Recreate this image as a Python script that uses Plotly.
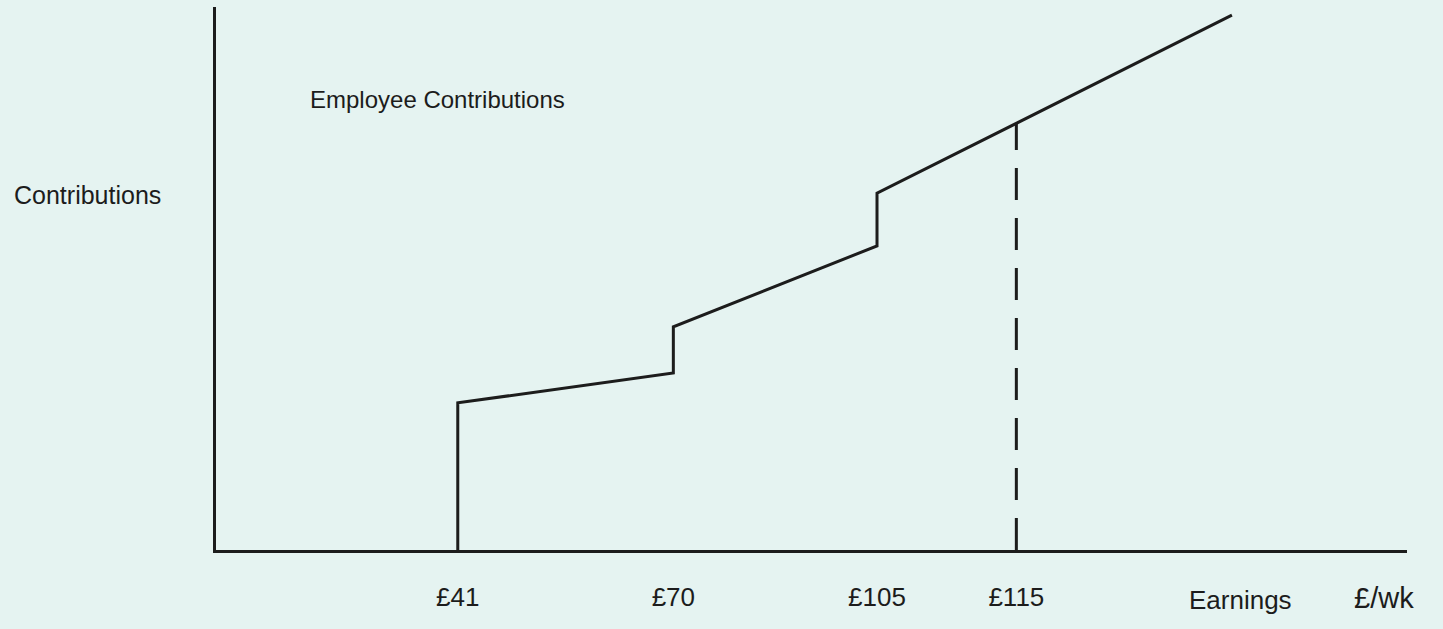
import numpy as np
import plotly.graph_objects as go

# Sketch (not to scale): positions along the axes in schematic units (0-100)
tick_labels = ["£41", "£70", "£105", "£115"]
tick_pos = [20.3, 38.4, 55.5, 67.2]

# Employee contributions step-line (schematic)
contrib_x = [20.3, 20.3, 38.4, 38.4, 55.5, 55.5, 85.3]
contrib_y = [0.0, 27.1, 32.6, 41.1, 56.0, 65.7, 98.5]

# Dashed marker at £115 (upper earnings limit)
uel_x = tick_pos[3]
uel_top = float(np.interp(uel_x, contrib_x[5:], contrib_y[5:]))

title_text = "Employee Contributions"
y_label = "Contributions"
x_label = "Earnings"
x_unit = "£/wk"

ink = "#1c1c1c"
paper = "#e5f3f1"
font_family = "Liberation Sans, Arial, sans-serif"

fig = go.Figure()
fig.add_trace(go.Scatter(x=contrib_x, y=contrib_y, mode="lines",
                         line=dict(color=ink, width=3), hoverinfo="skip",
                         showlegend=False, cliponaxis=False))
fig.add_trace(go.Scatter(x=[uel_x, uel_x], y=[0, uel_top], mode="lines",
                         line=dict(color=ink, width=3, dash="32px,18px"),
                         hoverinfo="skip", showlegend=False))

fig.update_layout(
    width=1443, height=629,
    margin=dict(l=216, r=36, t=7, b=79),
    paper_bgcolor=paper, plot_bgcolor=paper,
    font=dict(family=font_family, color=ink),
    xaxis=dict(range=[0, 100], showgrid=False, zeroline=False,
               showline=True, linecolor=ink, linewidth=3,
               tickvals=tick_pos, ticktext=tick_labels, ticks="",
               tickfont=dict(size=26, color=ink), ticklabelstandoff=22,
               fixedrange=True),
    yaxis=dict(range=[0, 100], showgrid=False, zeroline=False,
               showline=True, linecolor=ink, linewidth=3,
               showticklabels=False, ticks="", fixedrange=True),
    annotations=[
        dict(text=title_text, xref="paper", yref="paper", x=0.077, y=0.829,
             xanchor="left", yanchor="middle", showarrow=False,
             font=dict(size=24, color=ink)),
        dict(text=y_label, xref="paper", yref="paper", x=-0.171, y=0.654,
             xanchor="left", yanchor="middle", showarrow=False,
             font=dict(size=25, color=ink)),
        dict(text=x_label, xref="paper", yref="paper", x=0.86, y=-0.092,
             xanchor="center", yanchor="middle", showarrow=False,
             font=dict(size=26, color=ink)),
        dict(text=x_unit, xref="paper", yref="paper", x=0.981, y=-0.088,
             xanchor="center", yanchor="middle", showarrow=False,
             font=dict(size=29, color=ink)),
    ],
)

fig.write_html(
    "out.html",
    config={"displayModeBar": False},
    post_script="document.body.style.margin='0px';document.body.style.overflow='hidden';document.body.style.background='" + paper + "';",
)
